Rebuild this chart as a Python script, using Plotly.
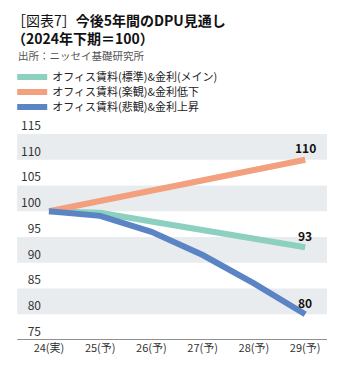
import plotly.graph_objects as go

categories = ["24(実)", "25(予)", "26(予)", "27(予)", "28(予)", "29(予)"]
standard = [100, 99.7, 98.0, 96.3, 94.7, 93]
optimistic = [100, 102.0, 104.0, 105.9, 108.0, 110]
pessimistic = [100, 99.1, 96.0, 91.5, 86.0, 80]
series_names = ["オフィス賃料(標準)&金利(メイン)", "オフィス賃料(楽観)&金利低下", "オフィス賃料(悲観)&金利上昇"]
series_colors = ["#8DD0C0", "#F2A07E", "#5B84C4"]
end_labels = ["93", "110", "80"]
y_ticks = [75, 80, 85, 90, 95, 100, 105, 110, 115]
bands = [(80, 85), (90, 95), (100, 105), (110, 115)]

FONT = "Noto Sans CJK JP"
W, H = 341, 372
ml, mr, mt, mb = 40, 14, 134, 32
pw = W - ml - mr
ph = H - mt - mb

fig = go.Figure()
xs = list(range(len(categories)))
all_series = [standard, optimistic, pessimistic]
for i, (vals, name, col) in enumerate(zip(all_series, series_names, series_colors)):
    fig.add_trace(go.Scatter(
        x=xs, y=vals, name=name, mode="lines",
        line=dict(color=col, width=6),
        legend="legend" if i == 0 else f"legend{i+1}",
        cliponaxis=False,
    ))

left_px = 15
x0p = (left_px - ml) / pw
shapes = []
for lo, hi in bands:
    shapes.append(dict(type="rect", xref="paper", yref="y", x0=x0p, x1=1, y0=lo, y1=hi,
                       fillcolor="#E9ECEF", line=dict(width=0), layer="below"))
shapes.append(dict(type="line", xref="paper", yref="y", x0=x0p, x1=1, y0=75, y1=75,
                   line=dict(color="#222", width=1.2)))

legend_common = dict(bgcolor="rgba(0,0,0,0)", borderwidth=0,
                     font=dict(family=FONT, size=11, color="#222"),
                     xanchor="left", yanchor="middle", itemwidth=30)
leg_x = (10 - ml) / pw
leg_rows = [77, 92, 107]
legends = {}
for i, row in enumerate(leg_rows):
    key = "legend" if i == 0 else f"legend{i+1}"
    legends[key] = dict(legend_common, x=leg_x, y=1 + (mt - row) / ph)

annotations = [
    dict(text="［図表7］<b>今後5年間のDPU見通し</b><br><b>（2024年下期＝100）</b>",
         x=(8 - ml) / pw, y=1 + (mt - 28.5) / ph, align="left",
         xref="paper", yref="paper", xanchor="left", yanchor="middle", showarrow=False,
         font=dict(family=FONT, size=14, color="#111")),
    dict(text="出所：ニッセイ基礎研究所", x=(14 - ml) / pw, y=1 + (mt - 56) / ph,
         xref="paper", yref="paper", xanchor="left", yanchor="middle", showarrow=False,
         font=dict(family=FONT, size=10.5, color="#555")),
]
for vals, lab in zip(all_series, end_labels):
    annotations.append(dict(text="<b>" + lab + "</b>", x=xs[-1], y=vals[-1], xref="x", yref="y",
                            xanchor="center", yanchor="middle", yshift=12, showarrow=False,
                            font=dict(family=FONT, size=12, color="#111")))

fig.update_layout(
    width=W, height=H,
    margin=dict(l=ml, r=mr, t=mt, b=mb),
    paper_bgcolor="white", plot_bgcolor="rgba(0,0,0,0)",
    showlegend=True,
    shapes=shapes, annotations=annotations,
    font=dict(family=FONT, size=11, color="#333"),
    xaxis=dict(tickmode="array", tickvals=xs, ticktext=categories, range=[-0.136, 5.426],
               showgrid=False, zeroline=False, showline=False, ticks="",
               tickfont=dict(family=FONT, size=11, color="#333")),
    yaxis=dict(range=[75, 115], tickvals=y_ticks, showgrid=False, zeroline=False,
               showline=False, ticks="", ticklabelposition="outside top",
               tickfont=dict(family=FONT, size=12, color="#333")),
    **legends,
)

fig.write_html("out.html")
